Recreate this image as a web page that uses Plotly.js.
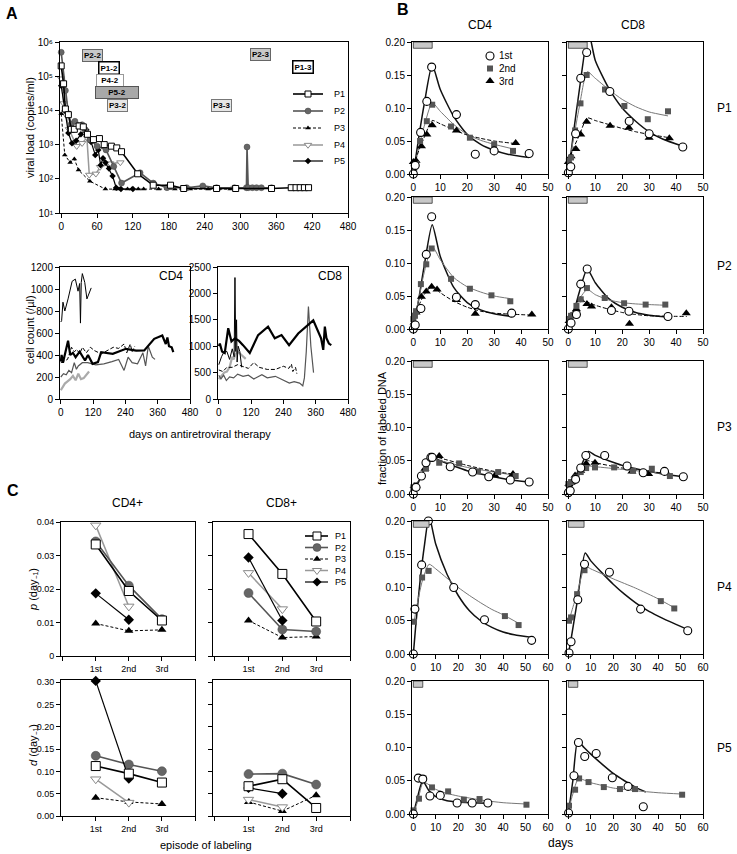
<!DOCTYPE html>
<html><head><meta charset="utf-8">
<script src="https://cdn.plot.ly/plotly-3.0.1.min.js"></script>
<style>html,body{margin:0;padding:0;background:#fff}#chart{width:737px;height:854px}</style>
</head><body><div id="chart"></div>
<script>
// ================= DATA =================
const PATIENTS = ['P1','P2','P3','P4','P5'];
// ---- Panel A: viral load (day, copies/ml) ----
const VL_TICKS = [0,60,120,180,240,300,360,420,480];
const VL_P1 = [[0,2e5],[4,6e4],[7,1.1e4],[12,7.5e3],[17,2.8e3],[22,2.8e3],[30,3.5e3],[37,3.3e3],[44,2e3],[54,1.4e3],[64,1.5e3],[72,1e3],[84,900],[93,800],[101,620],[128,140],[154,65],[183,65],[205,52],[260,52],[292,52],[352,52],[385,55],[393,55],[400,55],[407,55],[414,55]];
const VL_P2 = [[0,5e5],[7,3.8e4],[12,8e3],[17,4e3],[23,4.8e3],[35,3.8e3],[40,2.7e3],[48,1.4e3],[60,900],[75,700],[88,230],[101,75],[132,150],[154,75],[177,55],[210,55],[237,62],[260,55],[290,55],[310,55],[311,850],[313,55],[320,55],[327,55],[335,55],[352,55]];
const VL_P3 = [[0,8e3],[6,500],[15,300],[22,380],[29,180],[48,85],[74,50],[90,50],[97,50],[111,50],[118,50],[129,50],[138,50],[163,50],[190,50],[216,50],[246,50],[263,50],[283,50],[291,50]];
const VL_P4 = [[0,8.5e4],[4,1.6e4],[8,7.4e3],[13,2.8e3],[26,900],[35,1.1e3],[43,1.6e3],[47,130],[58,140],[65,220],[82,280],[99,300]];
const VL_P5 = [[0,5.3e4],[6,1e4],[12,2.2e3],[18,1.1e3],[25,1.3e3],[33,2e3],[42,2.7e3],[50,1.2e3],[57,500],[62,700],[66,250],[70,400],[74,300],[80,200],[86,120],[92,55],[100,50],[120,50]];
const VL_EXP = [1,2,3,4,5,6];
const VL_TICKTEXT = ['10¹','10²','10³','10⁴','10⁵','10⁶'];
// ---- Panel A: cell counts (day, cells/µl) ----
const CELL_TICKS = [0,120,240,360,480];
const CD4_TICKS = [0,200,400,600,800,1000,1200];
const CD8_TICKS = [0,500,1000,1500,2000,2500];
const CD4_P1 = [[0,340],[3,400],[8,330],[20,450],[27,530],[35,400],[45,420],[55,380],[70,430],[90,350],[101,400],[118,320],[138,336],[150,426],[193,410],[242,456],[280,440],[310,441],[347,547],[377,577],[390,500],[396,560],[402,480],[412,470],[418,426]];
const CD4_P2 = [[0,200],[10,230],[20,220],[30,260],[40,240],[50,330],[58,270],[65,300],[80,330],[100,330],[130,310],[160,320],[190,340],[215,360],[235,260],[250,380],[265,330],[285,320],[305,420],[315,300],[325,480],[340,380],[350,360]];
const CD4_P3 = [[0,330],[10,340],[25,360],[40,470],[50,430],[60,450],[70,410],[80,470],[95,420],[110,470],[125,440],[150,410],[170,440],[195,470],[215,460],[235,500],[245,420],[258,500],[265,430],[275,480]];
const CD4_P4 = [[0,80],[8,120],[15,140],[25,160],[35,180],[45,210],[55,170],[65,230],[75,180],[85,190],[95,220],[105,250]];
const CD4_P5 = [[0,700],[3,712],[8,880],[15,800],[27,910],[42,1070],[54,1090],[64,980],[70,1050],[73,690],[76,1060],[80,1140],[89,1060],[97,910],[113,1010]];
const CD8_P1 = [[0,1000],[4,1050],[12,900],[22,870],[35,1340],[47,1090],[60,1150],[75,1100],[90,1020],[115,870],[146,1210],[183,1370],[208,1150],[233,1210],[261,1020],[295,1240],[351,1490],[380,1150],[388,930],[394,1370],[400,1150],[409,1050],[418,1020]];
const CD8_P2 = [[0,450],[8,380],[18,450],[28,350],[40,420],[55,400],[70,470],[90,430],[110,450],[130,380],[160,460],[180,400],[210,430],[240,350],[262,300],[280,330],[300,300],[312,250],[318,400],[325,900],[333,1750],[342,1000],[352,500]];
const CD8_P3 = [[0,550],[15,520],[30,600],[50,600],[70,650],[90,620],[110,580],[130,690],[150,600],[180,560],[210,560],[240,620],[260,580],[270,660],[275,520],[285,600],[290,480]];
const CD8_P4 = [[0,380],[10,450],[20,500],[30,520],[40,600],[45,700],[50,800],[55,750],[62,850],[70,900],[80,850],[90,800],[100,760]];
const CD8_P5 = [[0,650],[10,800],[20,900],[30,900],[40,750],[50,950],[57,800],[60,2300],[63,900],[66,1500],[68,700],[72,1000],[78,900],[85,600]];

// ---- Panel C: rates per labeling episode ----
const EPISODES = ['1st','2nd','3rd'];
const p_CD4_P1 = [0.0333,0.0194,0.0106];
const p_CD4_P2 = [0.0342,0.0210,0.0110];
const p_CD4_P3 = [0.0097,0.0075,0.0078];
const p_CD4_P4 = [0.0390,0.0148,null];
const p_CD4_P5 = [0.0187,0.0108,null];
const p_CD8_P1 = [0.0364,0.0245,0.0103];
const p_CD8_P2 = [0.0188,0.0079,0.0073];
const p_CD8_P3 = [0.0106,0.0055,0.0058];
const p_CD8_P4 = [0.0248,0.0140,null];
const p_CD8_P5 = [0.0294,0.0106,null];
const d_CD4_P1 = [0.112,0.095,0.075];
const d_CD4_P2 = [0.135,0.1155,0.1005];
const d_CD4_P3 = [0.041,0.0315,0.027];
const d_CD4_P4 = [0.0825,0.030,null];
const d_CD4_P5 = [0.303,0.084,null];
const d_CD8_P1 = [0.0668,0.0825,0.018];
const d_CD8_P2 = [0.094,0.095,0.0705];
const d_CD8_P3 = [0.0315,0.011,0.0465];
const d_CD8_P4 = [0.0368,0.020,null];
const d_CD8_P5 = [0.063,0.050,null];
const P_TICKS = [0,0.01,0.02,0.03,0.04];
const P_TICKTEXT = ['0','0.01','0.02','0.03','0.04'];
const D_TICKS = [0,0.05,0.10,0.15,0.20,0.25,0.30];

// ---- Panel B: fraction of labeled DNA (day, fraction) ----
const EPISODE_NAMES = ['1st','2nd','3rd'];
const B_TICKS_Y = [0,0.05,0.10,0.15,0.20];
const B_TICKS_X50 = [0,10,20,30,40,50];
const B_TICKS_X60 = [0,10,20,30,40,50,60];
const LABEL_DAYS = [7,7,7,7,4.2];   // labeling period per patient (grey bar)

const P1_CD4_1st = [[0,0],[0.7,0.013],[2.7,0.063],[5,0.11],[6.8,0.162],[16,0.09],[23,0.03],[30,0.035],[43,0.031]];
const P1_CD4_2nd = [[0.3,0.007],[1,0.015],[2.5,0.05],[5,0.08],[7,0.105],[14,0.072],[21,0.055],[30,0.045],[37,0.035]];
const P1_CD4_3rd = [[0,0.018],[1,0.02],[3,0.042],[5,0.06],[7,0.074],[16,0.066],[38,0.047]];
const P1_CD4_1st_fit = [[0,0],[2,0.055],[4,0.105],[7,0.165],[10,0.128],[15,0.087],[20,0.06],[25,0.045],[30,0.036],[35,0.03],[43,0.025]];
const P1_CD4_2nd_fit = [[0,0],[2,0.04],[4,0.072],[7,0.108],[10,0.095],[15,0.075],[20,0.06],[25,0.051],[30,0.045],[37,0.038]];
const P1_CD4_3rd_fit = [[0,0.012],[2,0.035],[4,0.055],[7,0.081],[10,0.076],[15,0.067],[20,0.059],[25,0.054],[30,0.05],[38,0.046]];

const P1_CD8_1st = [[0,0.002],[0.9,0.011],[2.7,0.061],[4.6,0.145],[6.8,0.184],[15.4,0.125],[22.6,0.08],[30,0.061],[42.5,0.041]];
const P1_CD8_2nd = [[0.2,0.02],[1,0.025],[2.5,0.066],[4.5,0.107],[6.8,0.15],[13.6,0.128],[20.8,0.103],[29.5,0.083],[37,0.095]];
const P1_CD8_3rd = [[0,0.018],[1,0.027],[2.8,0.038],[4.6,0.06],[6.8,0.079],[15.5,0.073],[22.5,0.07],[30,0.055],[37.5,0.054]];
const P1_CD8_1st_fit = [[0,0],[2,0.065],[4,0.125],[7.5,0.215],[10,0.172],[15,0.13],[20,0.1],[25,0.08],[30,0.064],[35,0.053],[42.5,0.042]];
const P1_CD8_2nd_fit = [[0,0.01],[2,0.055],[4,0.1],[7,0.155],[10,0.145],[15,0.128],[20,0.113],[25,0.102],[30,0.094],[37,0.088]];
const P1_CD8_3rd_fit = [[0,0.02],[2,0.04],[4,0.058],[7,0.085],[10,0.081],[15,0.075],[20,0.069],[25,0.064],[30,0.06],[37.5,0.055]];

const P2_CD4_1st = [[0,0],[0.7,0.006],[2.8,0.031],[4.8,0.113],[6.8,0.17],[16,0.048],[23,0.037],[36.5,0.024]];
const P2_CD4_2nd = [[0,0.015],[0.6,0.02],[1,0.027],[2.8,0.068],[4.8,0.098],[6.8,0.122],[14,0.076],[21,0.061],[29,0.051],[36,0.042]];
const P2_CD4_3rd = [[0.3,0.01],[1,0.025],[3,0.049],[4.8,0.057],[6.8,0.064],[8.8,0.06],[16,0.044],[23,0.023],[44,0.022]];
const P2_CD4_1st_fit = [[0,0],[2,0.045],[4,0.095],[7,0.158],[10,0.11],[15,0.063],[20,0.04],[25,0.029],[30,0.023],[36.5,0.019]];
const P2_CD4_2nd_fit = [[0,0.01],[2,0.045],[4,0.085],[7,0.125],[10,0.105],[15,0.078],[20,0.064],[25,0.056],[30,0.05],[36,0.046]];
const P2_CD4_3rd_fit = [[0,0.01],[2,0.035],[4,0.052],[7,0.065],[10,0.055],[15,0.042],[20,0.033],[25,0.027],[30,0.024],[44,0.021]];

const P2_CD8_1st = [[0,0],[1,0.009],[3,0.022],[4.6,0.068],[7,0.091],[16,0.028],[22.5,0.027],[37,0.019]];
const P2_CD8_2nd = [[0.2,0.015],[1,0.02],[3,0.035],[4.6,0.045],[6.9,0.062],[13.5,0.047],[20.7,0.039],[28.7,0.037],[36,0.037]];
const P2_CD8_3rd = [[0.3,0.012],[1,0.02],[3,0.03],[4.6,0.044],[6.9,0.038],[8.6,0.034],[16,0.033],[22.7,0.008],[43.8,0.024]];
const P2_CD8_1st_fit = [[0,0],[2,0.025],[4,0.055],[7,0.091],[10,0.07],[15,0.046],[20,0.033],[25,0.025],[30,0.021],[37,0.018]];
const P2_CD8_2nd_fit = [[0,0.01],[2,0.03],[4,0.045],[7,0.06],[10,0.052],[15,0.044],[20,0.04],[25,0.038],[30,0.037],[36,0.036]];
const P2_CD8_3rd_fit = [[0,0.01],[2,0.028],[4,0.04],[5.5,0.043],[7,0.041],[10,0.036],[15,0.03],[20,0.025],[25,0.022],[30,0.02],[44,0.019]];

const P3_CD4_1st = [[0,0],[1,0.01],[3,0.027],[4.7,0.047],[6.5,0.055],[7,0.055],[13.7,0.041],[22,0.033],[28,0.026],[36,0.021],[43,0.018]];
const P3_CD4_2nd = [[0,0.01],[1,0.012],[3,0.027],[4.7,0.038],[9.6,0.047],[17,0.046],[24,0.034],[31.5,0.033],[38,0.027]];
const P3_CD4_3rd = [[0.3,0.012],[1,0.012],[4.3,0.038],[6.5,0.054],[9.6,0.057],[30.3,0.028],[37,0.03]];
const P3_CD4_1st_fit = [[0,0.002],[1,0.01],[3,0.027],[5,0.047],[7,0.056],[10,0.05],[15,0.042],[20,0.035],[25,0.03],[30,0.026],[35,0.022],[43,0.018]];
const P3_CD4_2nd_fit = [[0,0.01],[2,0.02],[4,0.035],[7,0.052],[10,0.05],[20,0.04],[30,0.033],[38,0.028]];
const P3_CD4_3rd_fit = [[0,0.01],[2,0.02],[4,0.036],[6,0.052],[8,0.056],[10,0.054],[20,0.043],[30,0.034],[37,0.03]];

const P3_CD8_1st = [[0,0.002],[0.7,0.005],[2.7,0.022],[4.6,0.039],[6.5,0.058],[13.5,0.058],[21.8,0.042],[27.8,0.032],[35.7,0.034],[42.7,0.026]];
const P3_CD8_2nd = [[0,0.015],[1,0.018],[3,0.025],[4.6,0.033],[6.6,0.039],[9.9,0.04],[17,0.04],[24,0.035],[31,0.038],[37.7,0.027]];
const P3_CD8_3rd = [[0.2,0.015],[1,0.017],[2.5,0.028],[4.6,0.035],[6.6,0.046],[9.9,0.047],[23.6,0.034],[29.8,0.03],[36.2,0.033]];
const P3_CD8_1st_fit = [[0,0],[2,0.018],[4,0.035],[7.5,0.064],[10,0.058],[15,0.05],[20,0.043],[25,0.038],[30,0.034],[35,0.03],[42.7,0.026]];
const P3_CD8_2nd_fit = [[0,0.013],[2,0.022],[4,0.03],[6.5,0.042],[10,0.041],[20,0.037],[30,0.033],[37.7,0.03]];
const P3_CD8_3rd_fit = [[0,0.012],[2,0.025],[4,0.035],[7,0.05],[10,0.047],[20,0.039],[30,0.034],[36,0.031]];

const P4_CD4_1st = [[0,0],[0.7,0.0675],[3.7,0.134],[6.7,0.2],[18,0.1],[31.7,0.0515],[52.7,0.0205]];
const P4_CD4_2nd = [[0.3,0.0485],[3.9,0.115],[6.8,0.125],[40.8,0.057],[46.9,0.0435]];
const P4_CD4_1st_fit = [[0,0],[1,0.04],[3,0.11],[5,0.165],[7,0.207],[10,0.165],[15,0.12],[20,0.088],[25,0.065],[30,0.05],[35,0.04],[40,0.033],[45,0.029],[53,0.025]];
const P4_CD4_2nd_fit = [[0.3,0.048],[2,0.08],[4,0.11],[7,0.135],[10,0.128],[15,0.114],[20,0.1],[25,0.088],[30,0.077],[35,0.067],[40,0.059],[47,0.046]];

const P4_CD8_1st = [[0.3,0.0015],[1.2,0.0185],[4.2,0.0815],[7.2,0.135],[18.3,0.123],[32.2,0.0675],[53.2,0.035]];
const P4_CD8_2nd = [[0.3,0.05],[1.2,0.055],[3.9,0.09],[7.2,0.126],[41.2,0.0795],[47.2,0.0685]];
const P4_CD8_1st_fit = [[0,0],[1,0.018],[4,0.08],[7.5,0.152],[10,0.14],[15,0.122],[20,0.105],[25,0.09],[30,0.077],[35,0.066],[40,0.057],[45,0.049],[53,0.037]];
const P4_CD8_2nd_fit = [[0.3,0.05],[2,0.07],[4,0.092],[7.5,0.132],[10,0.128],[20,0.113],[30,0.099],[40,0.083],[47,0.07]];

const P5_CD4_1st = [[0,0],[2.2,0.054],[4.2,0.0525],[7.4,0.027],[12,0.028],[19.5,0.0165],[26.2,0.0165],[33.2,0.0165]];
const P5_CD4_2nd = [[0.1,0.0055],[2.5,0.023],[4.5,0.0535],[8.3,0.04],[15.5,0.034],[22.5,0.0215],[29.5,0.0225],[50.4,0.014]];
const P5_CD4_1st_fit = [[0,0],[1.5,0.02],[3,0.04],[4.2,0.05],[7,0.035],[10,0.026],[15,0.02],[20,0.018],[25,0.017],[33,0.016]];
const P5_CD4_2nd_fit = [[0,0],[2,0.02],[4.5,0.048],[10,0.037],[15,0.031],[20,0.027],[25,0.024],[30,0.021],[40,0.017],[50.4,0.015]];

const P5_CD8_1st = [[0.1,0.0015],[2.5,0.0575],[4.5,0.1075],[7.3,0.0865],[12.4,0.091],[19.6,0.0545],[26.6,0.0415],[33.4,0.011]];
const P5_CD8_2nd = [[0.3,0.0125],[3,0.0365],[4.8,0.0535],[9,0.048],[15.8,0.0405],[23,0.0375],[29.7,0.0375],[50.7,0.029]];
const P5_CD8_1st_fit = [[0,0],[2,0.05],[4.2,0.11],[7,0.1],[10,0.09],[15,0.075],[20,0.061],[25,0.05],[30,0.04],[34.5,0.033]];
const P5_CD8_2nd_fit = [[0,0.005],[2,0.03],[4.5,0.053],[10,0.047],[15,0.043],[20,0.039],[25,0.037],[30,0.035],[40,0.032],[50.7,0.03]];

// ================= BUILD =================
const F = '"Liberation Sans", Arial, Helvetica, sans-serif';
const W = 737, H = 854;
const xd = (a,b) => [a/W, b/W];
const yd = (t,b) => [1-b/H, 1-t/H];
function ax(extra){
  return Object.assign({showline:true, linecolor:'#000', linewidth:1, mirror:true, ticks:'outside', ticklen:4,
    tickwidth:1, tickcolor:'#000', showgrid:false, zeroline:false, fixedrange:true,
    tickfont:{family:F, size:10, color:'#000'}}, extra);
}
const X = p => p.map(v=>v[0]);
const Y = p => p.map(v=>v[1]);
const traces = [];

// patient styles
const PS = {
  P1:{line:{color:'#000',width:1.6}, marker:{symbol:'square', color:'#fff', line:{color:'#000',width:1}}},
  P2:{line:{color:'#555',width:1.6}, marker:{symbol:'circle', color:'#666', line:{color:'#444',width:0.5}}},
  P3:{line:{color:'#000',width:1, dash:'3px,2px'}, marker:{symbol:'triangle-up', color:'#000', line:{width:0}}},
  P4:{line:{color:'#999',width:1.5}, marker:{symbol:'triangle-down', color:'#fff', line:{color:'#888',width:1}}},
  P5:{line:{color:'#000',width:1.2}, marker:{symbol:'diamond', color:'#000', line:{width:0}}}
};
const VL_SIZE = {P1:6,P2:6,P3:5,P4:6.5,P5:5};
const C_SIZE = {P1:9,P2:9,P3:8,P4:9,P5:8};
const CELL_LINE = {P1:{color:'#000',width:2.2},P2:{color:'#555',width:1.2},P3:{color:'#000',width:1,dash:'4px,2px'},P4:{color:'#aaa',width:2.2},P5:{color:'#000',width:1}};

// ---- Panel A ----
const VL = {P1:VL_P1,P2:VL_P2,P3:VL_P3,P4:VL_P4,P5:VL_P5};
['P4','P3','P5','P2','P1'].forEach(p=>{
  traces.push({type:'scatter', mode:'lines+markers', x:X(VL[p]), y:Y(VL[p]), xaxis:'x', yaxis:'y',
    line:PS[p].line, marker:Object.assign({size:VL_SIZE[p]}, PS[p].marker), cliponaxis:false, hoverinfo:'skip'});
});
const CD4 = {P1:CD4_P1,P2:CD4_P2,P3:CD4_P3,P4:CD4_P4,P5:CD4_P5};
const CD8 = {P1:CD8_P1,P2:CD8_P2,P3:CD8_P3,P4:CD8_P4,P5:CD8_P5};
['P4','P3','P2','P5','P1'].forEach(p=>{
  traces.push({type:'scatter', mode:'lines', x:X(CD4[p]), y:Y(CD4[p]), xaxis:'x2', yaxis:'y2', line:CELL_LINE[p], hoverinfo:'skip'});
  traces.push({type:'scatter', mode:'lines', x:X(CD8[p]), y:Y(CD8[p]), xaxis:'x3', yaxis:'y3', line:CELL_LINE[p], hoverinfo:'skip'});
});

// ---- Panel C ----
const EPX = EPISODES.map((e,i)=>i+1);
const C_PANELS = [
  {xa:'x4', ya:'y4', d:{P1:p_CD4_P1,P2:p_CD4_P2,P3:p_CD4_P3,P4:p_CD4_P4,P5:p_CD4_P5}},
  {xa:'x5', ya:'y5', d:{P1:p_CD8_P1,P2:p_CD8_P2,P3:p_CD8_P3,P4:p_CD8_P4,P5:p_CD8_P5}},
  {xa:'x6', ya:'y6', d:{P1:d_CD4_P1,P2:d_CD4_P2,P3:d_CD4_P3,P4:d_CD4_P4,P5:d_CD4_P5}},
  {xa:'x7', ya:'y7', d:{P1:d_CD8_P1,P2:d_CD8_P2,P3:d_CD8_P3,P4:d_CD8_P4,P5:d_CD8_P5}}
];
C_PANELS.forEach(cp=>{
  ['P3','P4','P2','P5','P1'].forEach(p=>{
    traces.push({type:'scatter', mode:'lines+markers', x:EPX, y:cp.d[p], xaxis:cp.xa, yaxis:cp.ya,
      line:PS[p].line, marker:Object.assign({size:C_SIZE[p]}, PS[p].marker), cliponaxis:false, hoverinfo:'skip'});
  });
});

// ---- Panel B ----
const B_DATA = {
  P1_CD4:{pts:[P1_CD4_1st,P1_CD4_2nd,P1_CD4_3rd], fit:[P1_CD4_1st_fit,P1_CD4_2nd_fit,P1_CD4_3rd_fit]},
  P1_CD8:{pts:[P1_CD8_1st,P1_CD8_2nd,P1_CD8_3rd], fit:[P1_CD8_1st_fit,P1_CD8_2nd_fit,P1_CD8_3rd_fit]},
  P2_CD4:{pts:[P2_CD4_1st,P2_CD4_2nd,P2_CD4_3rd], fit:[P2_CD4_1st_fit,P2_CD4_2nd_fit,P2_CD4_3rd_fit]},
  P2_CD8:{pts:[P2_CD8_1st,P2_CD8_2nd,P2_CD8_3rd], fit:[P2_CD8_1st_fit,P2_CD8_2nd_fit,P2_CD8_3rd_fit]},
  P3_CD4:{pts:[P3_CD4_1st,P3_CD4_2nd,P3_CD4_3rd], fit:[P3_CD4_1st_fit,P3_CD4_2nd_fit,P3_CD4_3rd_fit]},
  P3_CD8:{pts:[P3_CD8_1st,P3_CD8_2nd,P3_CD8_3rd], fit:[P3_CD8_1st_fit,P3_CD8_2nd_fit,P3_CD8_3rd_fit]},
  P4_CD4:{pts:[P4_CD4_1st,P4_CD4_2nd], fit:[P4_CD4_1st_fit,P4_CD4_2nd_fit]},
  P4_CD8:{pts:[P4_CD8_1st,P4_CD8_2nd], fit:[P4_CD8_1st_fit,P4_CD8_2nd_fit]},
  P5_CD4:{pts:[P5_CD4_1st,P5_CD4_2nd], fit:[P5_CD4_1st_fit,P5_CD4_2nd_fit]},
  P5_CD8:{pts:[P5_CD8_1st,P5_CD8_2nd], fit:[P5_CD8_1st_fit,P5_CD8_2nd_fit]}
};
const EP_MARK = [
  {symbol:'circle', color:'#fff', size:8, line:{color:'#000',width:1.1}},
  {symbol:'square', color:'#555', size:6, line:{width:0}},
  {symbol:'triangle-up', color:'#000', size:8, line:{width:0}}
];
const EP_FIT = [
  {color:'#111', width:1.5},
  {color:'#777', width:1},
  {color:'#000', width:1, dash:'4px,2px'}
];
const B_ROWS_PX = [[42,174],[197,329],[361,494],[521,654],[681,814]];
const B_COLS_PX = [[412,548],[567,703]];
const layout = {
  width:W, height:H, margin:{l:0,r:0,t:0,b:0}, paper_bgcolor:'#fff', plot_bgcolor:'rgba(0,0,0,0)',
  showlegend:false, font:{family:F, size:10, color:'#000'}, annotations:[], shapes:[]
};
PATIENTS.forEach((p,r)=>{
  ['CD4','CD8'].forEach((c,ci)=>{
    const k = 8 + r*2 + ci;
    const xa = 'x'+k, ya = 'y'+k;
    const big = r >= 3;
    layout['xaxis'+k] = ax({domain:xd(...B_COLS_PX[ci]), range: big ? [-0.6,60] : [-0.5,50],
      tickvals: big ? B_TICKS_X60 : B_TICKS_X50, anchor:ya});
    layout['yaxis'+k] = ax({domain:yd(...B_ROWS_PX[r]), range:[0,0.2], tickvals:B_TICKS_Y, tickformat:'.2f',
      showticklabels: ci===0, anchor:xa});
    layout.shapes.push({type:'rect', xref:xa, yref:ya, x0:0, x1:LABEL_DAYS[r], y0:0.1905, y1:0.2,
      fillcolor:'#c8c8c8', line:{color:'#333', width:0.8}});
    const D = B_DATA[p+'_'+c];
    D.fit.forEach((f,e)=>traces.push({type:'scatter', mode:'lines', x:X(f), y:Y(f), xaxis:xa, yaxis:ya,
      line:Object.assign({shape:'spline', smoothing:0.6}, EP_FIT[e]), hoverinfo:'skip'}));
    D.pts.slice().reverse().forEach((s,ri)=>{
      const e = D.pts.length-1-ri;
      traces.push({type:'scatter', mode:'markers', x:X(s), y:Y(s), xaxis:xa, yaxis:ya,
        marker:EP_MARK[e], cliponaxis:false, hoverinfo:'skip'});
    });
  });
});

// ---- axes A and C ----
layout.xaxis = ax({domain:xd(60,348), range:[-2,480], tickvals:VL_TICKS, anchor:'y'});
layout.yaxis = ax({domain:yd(42,213), type:'log', range:[1,6], tickvals:VL_EXP.map(e=>Math.pow(10,e)),
  ticktext:VL_TICKTEXT, anchor:'x'});
layout.xaxis2 = ax({domain:xd(60,190), range:[-3,480], tickvals:CELL_TICKS, anchor:'y2'});
layout.yaxis2 = ax({domain:yd(267,399), range:[0,1200], tickvals:CD4_TICKS, anchor:'x2'});
layout.xaxis3 = ax({domain:xd(218,348), range:[-3,480], tickvals:CELL_TICKS, anchor:'y3'});
layout.yaxis3 = ax({domain:yd(267,399), range:[0,2500], tickvals:CD8_TICKS, anchor:'x3'});
const cx = (dom, a) => ax({domain:dom, range:[-0.05,4], tickvals:EPX, ticktext:EPISODES,
  minor:{tickvals:[0,4], ticks:'outside', ticklen:4, tickwidth:1, tickcolor:'#000', showgrid:false},
  tickfont:{family:F,size:9,color:'#000'}, anchor:a});
layout.xaxis4 = cx(xd(61,195),'y4');
layout.xaxis5 = cx(xd(213,350),'y5');
layout.xaxis6 = cx(xd(61,195),'y6');
layout.xaxis7 = cx(xd(213,350),'y7');
layout.yaxis4 = ax({domain:yd(522,656), range:[0,0.04], tickvals:P_TICKS, ticktext:P_TICKTEXT, tickfont:{family:F,size:9,color:'#000'}, anchor:'x4'});
layout.yaxis5 = ax({domain:yd(522,656), range:[0,0.04], tickvals:P_TICKS, showticklabels:false, anchor:'x5'});
layout.yaxis6 = ax({domain:yd(680,816), range:[0,0.305], tickvals:D_TICKS, tickformat:'.2f', tickfont:{family:F,size:9,color:'#000'}, anchor:'x6'});
layout.yaxis7 = ax({domain:yd(680,816), range:[0,0.305], tickvals:D_TICKS, showticklabels:false, anchor:'x7'});
// overlay pixel axes for hand-drawn legend keys
layout.xaxis18 = {domain:[0,1], range:[0,W], visible:false, fixedrange:true, anchor:'y18'};
layout.yaxis18 = {domain:[0,1], range:[H,0], visible:false, fixedrange:true, anchor:'x18'};

// ---- legends ----
function legendRow(x0, x1, xm, y, p, size){
  traces.push({type:'scatter', mode:'lines', x:[x0,x1], y:[y,y], xaxis:'x18', yaxis:'y18', line:PS[p].line, hoverinfo:'skip', cliponaxis:false});
  traces.push({type:'scatter', mode:'markers', x:[xm], y:[y], xaxis:'x18', yaxis:'y18', marker:Object.assign({size:size}, PS[p].marker), hoverinfo:'skip', cliponaxis:false});
}
const A_LEG_Y = [94,111,128,145,161];
const C_LEG_Y = [536,547.5,559,570.5,582];
PATIENTS.forEach((p,i)=>{
  legendRow(293,323,308,A_LEG_Y[i],p,VL_SIZE[p]);
  legendRow(305,328,317,C_LEG_Y[i],p,C_SIZE[p]-1);
});
const B_LEG_Y = [56,68.5,81];
EPISODE_NAMES.forEach((e,i)=>{
  traces.push({type:'scatter', mode:'markers', x:[490], y:[B_LEG_Y[i]], xaxis:'x18', yaxis:'y18', marker:EP_MARK[i], hoverinfo:'skip', cliponaxis:false});
});

// ---- annotations ----
function ann(text, px, py, o){
  return Object.assign({text:text, x:px/W, y:1-py/H, xref:'paper', yref:'paper', showarrow:false,
    xanchor:'center', yanchor:'middle', font:{family:F, size:11, color:'#000'}}, o||{});
}
const A = layout.annotations;
const fnt = (s,extra)=>Object.assign({family:F,size:s,color:'#000'},extra||{});
A.push(ann('A',12,13,{font:fnt(16,{weight:'bold'})}));
A.push(ann('B',403,9,{font:fnt(16,{weight:'bold'})}));
A.push(ann('C',13,490,{font:fnt(16,{weight:'bold'})}));
A.push(ann('viral load (copies/ml)',30,128,{textangle:-90}));
A.push(ann('cell count (/µl)',30,330,{textangle:-90}));
A.push(ann('days on antiretroviral therapy',200,434));
A.push(ann('CD4',171,276,{font:fnt(12)}));
A.push(ann('CD8',330,276,{font:fnt(12)}));
A.push(ann('CD4+',128,503,{font:fnt(12)}));
A.push(ann('CD8+',281,503,{font:fnt(12)}));
A.push(ann('<i>p</i> (day₋₁)',33,590,{textangle:-90}));
A.push(ann('<i>d</i> (day₋₁)',33,745,{textangle:-90}));
A.push(ann('episode of labeling',206,845));
A.push(ann('CD4',480,25,{font:fnt(12)}));
A.push(ann('CD8',633,25,{font:fnt(12)}));
A.push(ann('fraction of labeled DNA',382,428,{textangle:-90,font:fnt(11)}));
A.push(ann('days',560,843,{font:fnt(12)}));
const ROW_LABEL_Y = [108,266,427,587,748];
PATIENTS.forEach((p,i)=>{
  A.push(ann(p,724,ROW_LABEL_Y[i],{font:fnt(12)}));
  A.push(ann(p,332,A_LEG_Y[i],{xanchor:'left',font:fnt(9)}));
  A.push(ann(p,333,C_LEG_Y[i],{xanchor:'left',font:fnt(9)}));
});
EPISODE_NAMES.forEach((e,i)=>A.push(ann(e,497,B_LEG_Y[i],{xanchor:'left',font:fnt(10)})));
// labeling-episode boxes on viral load panel
const BOXES = [
  {t:'P2-2', x:92.5, y:56,  bg:'#c8c8c8', bc:'#666', bw:1},
  {t:'P1-2', x:109,  y:67.5, bg:'#fff', bc:'#000', bw:1.5},
  {t:'P4-2', x:110,  y:80.5, bg:'#fff', bc:'#999', bw:1, w:24},
  {t:'P5-2', x:117,  y:92.5, bg:'#a8a8a8', bc:'#555', bw:1, w:40},
  {t:'P3-2', x:117,  y:105, bg:'#e6e6e6', bc:'#777', bw:1},
  {t:'P2-3', x:260,  y:55,  bg:'#c8c8c8', bc:'#666', bw:1},
  {t:'P1-3', x:303,  y:66.5, bg:'#fff', bc:'#000', bw:1.5},
  {t:'P3-3', x:221,  y:105, bg:'#e6e6e6', bc:'#777', bw:1}
];
BOXES.forEach(b=>A.push(ann(b.t, b.x, b.y, Object.assign({font:fnt(8,{weight:'bold'}), bgcolor:b.bg,
  bordercolor:b.bc, borderwidth:b.bw, borderpad:1}, b.w ? {width:b.w} : {}))));

Plotly.newPlot('chart', traces, layout, {staticPlot:true, displayModeBar:false});
</script></body></html>
